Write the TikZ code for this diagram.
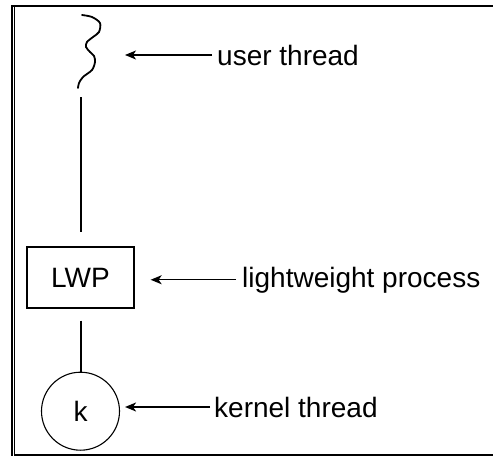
\documentclass[tikz,border=0pt]{standalone}
\usepackage{fontspec}
\setmainfont{Liberation Sans}
\usepackage{tikz}
\usetikzlibrary{arrows.meta,positioning}
\tikzset{
  lwpbox/.style={
    rectangle,
    draw=black,
    line width=1.3pt,
    minimum width=107pt,
    minimum height=61pt,
    inner sep=0pt,
    font=\fontsize{28}{30}\selectfont
  },
  kcircle/.style={
    circle,
    draw=black,
    line width=1.1pt,
    minimum size=78pt,
    inner sep=0pt,
    font=\fontsize{28}{30}\selectfont
  },
  tag/.style={
    inner sep=0pt,
    anchor=base west,
    font=\fontsize{28}{30}\selectfont
  },
  link/.style={line width=2pt, black},
  thread/.style={line width=1.8pt, black, line cap=round},
  pointer/.style={-{Stealth[length=11pt,width=9pt,inset=3pt]}, line width=1.3pt, black},
  frameline/.style={line width=2.3pt, black}
}
\begin{document}
\begin{tikzpicture}[x=1pt,y=-1pt]
\useasboundingbox (0,0) rectangle (493,456);
% frame
\draw[frameline] (12.2,5) -- (12.2,456);
\draw[line width=1.2pt] (14.8,7) -- (14.8,454);
\draw[frameline] (11,6.2) -- (493,6.2);
\draw[frameline] (14,454.8) -- (493,454.8);
% user thread
\draw[thread] plot[smooth] coordinates {(82,15) (92,17) (100,23) (99,32) (93,37) (87,42) (86,47)
  (90,52) (94,56) (95,62) (92,70) (83,77) (79,83) (78,88)};
\coordinate (ut) at (78,88);
\coordinate (utip) at (125,57);
% nodes
\node[lwpbox] (lwp) at (80.5,277.5) {LWP};
\node[kcircle, below=63pt of lwp.south, anchor=north] (k) {k};
\node[tag] (ulab) at (217,65) {user thread};
\node[tag] (wlab) at (242,287) {lightweight process};
\node[tag] (klab) at (214,417) {kernel thread};
% connections
\draw[link, shorten <=9pt, shorten >=14pt] (ut -| lwp) -- (lwp.north);
\draw[link, shorten <=12pt] (lwp.south) -- (k.north);
\draw[pointer, shorten <=5pt] (ulab.west) -- (ulab.west -| utip);
\draw[pointer, shorten <=6pt, shorten >=16pt] (wlab.west) -- (wlab.west -| lwp.east);
\draw[pointer, shorten <=4pt, shorten >=5pt] (klab.west) -- (klab.west -| k.east);
\end{tikzpicture}
\end{document}
